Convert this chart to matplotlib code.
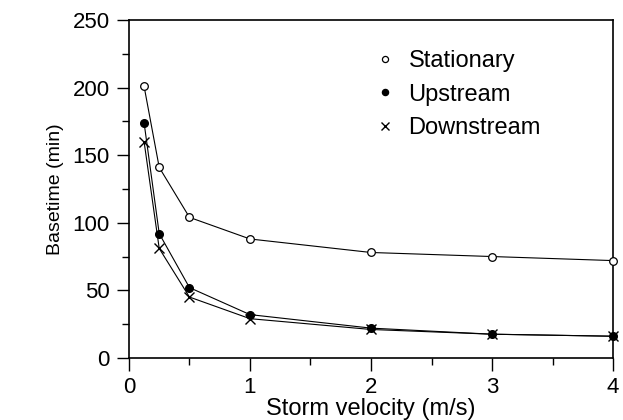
import matplotlib
matplotlib.use("Agg")
import matplotlib.pyplot as plt
from matplotlib.ticker import MultipleLocator

# storm velocity (m/s)
velocity = [0.125, 0.25, 0.5, 1, 2, 3, 4]

# basetime (min) for each storm direction
stationary = [201, 141, 104, 88, 78, 75, 72]
upstream = [174, 92, 52, 32, 22, 17.5, 16]
downstream = [160, 81, 45, 29, 21, 17.5, 16]

series = [
    ("Stationary", stationary, dict(marker="o", mfc="white", mec="black", ms=5.5, mew=0.9)),
    ("Upstream", upstream, dict(marker="o", mfc="black", mec="black", ms=5.5)),
    ("Downstream", downstream, dict(marker="x", mec="black", ms=6.5, mew=1.0)),
]

plt.rcParams["font.family"] = ["Liberation Sans", "DejaVu Sans"]

fig = plt.figure(figsize=(6.23, 4.20), dpi=100)
ax = fig.add_axes([0.207, 0.148, 0.777, 0.804])

for name, vals, style in series:
    # connecting line, then the markers on their own so the legend shows markers only
    ax.plot(velocity, vals, color="black", lw=0.8, clip_on=False)
    ax.plot(velocity, vals, ls="none", label=name, clip_on=False, zorder=3, **style)

ax.set_xlim(0, 4)
ax.set_ylim(0, 250)
ax.xaxis.set_major_locator(MultipleLocator(1))
ax.xaxis.set_minor_locator(MultipleLocator(0.5))
ax.yaxis.set_major_locator(MultipleLocator(50))
ax.yaxis.set_minor_locator(MultipleLocator(25))

ax.tick_params(which="both", direction="out", top=False, right=False, width=1.0)
ax.tick_params(which="major", length=9, labelsize=16, pad=5)
ax.tick_params(which="minor", length=5)
for sp in ax.spines.values():
    sp.set_linewidth(1.2)

ax.set_xlabel("Storm velocity (m/s)", fontsize=17, labelpad=0)
ax.set_ylabel("Basetime (min)", fontsize=14, labelpad=6)

leg = ax.legend(loc="upper left", bbox_to_anchor=(0.47, 0.975), frameon=False,
                fontsize=17, handlelength=0.6, handletextpad=0.7, labelspacing=0.5,
                markerscale=0.8)

fig.savefig("out.png", dpi=100)
